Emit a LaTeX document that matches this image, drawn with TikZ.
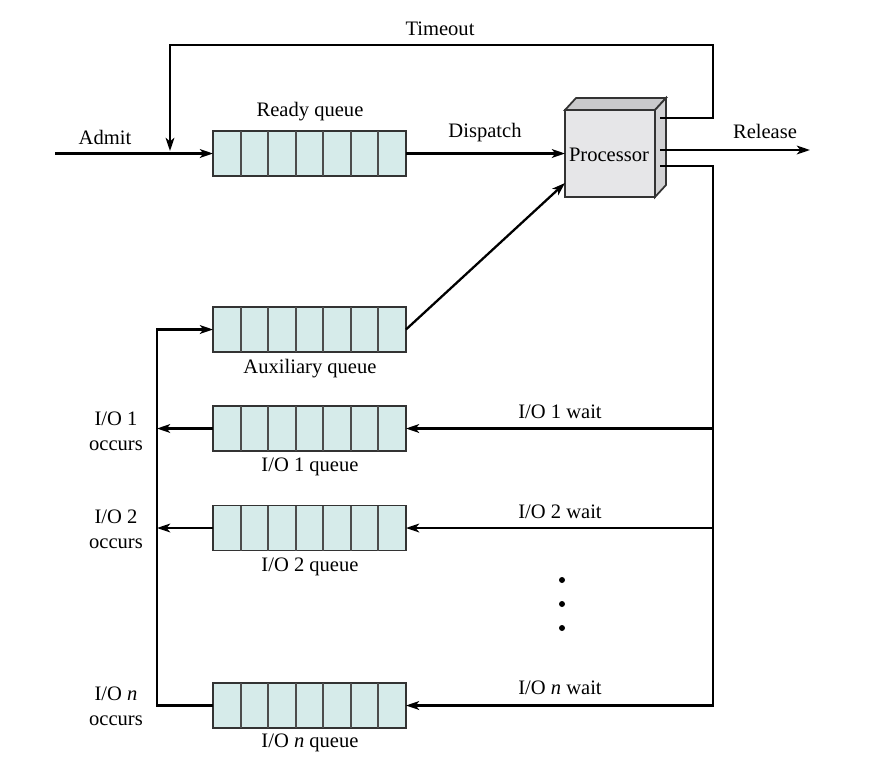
\documentclass[tikz,border=0pt]{standalone}
\usepackage{fontspec}
\setmainfont{Liberation Serif}
\usetikzlibrary{arrows.meta,calc}

\definecolor{qfill}{HTML}{D6EBEA}
\definecolor{pfront}{HTML}{E6E6E8}
\definecolor{ptop}{HTML}{C9C9CB}
\definecolor{pside}{HTML}{D2D2D4}

\tikzset{
    queue/.style={draw=black!80, fill=qfill, line width=1pt, minimum width=3.86cm, minimum height=0.9cm, inner sep=0pt, outer sep=0pt},
    cell/.style={draw=black!70, line width=1.1pt},
    flow/.style={line width=1.3pt, -{Stealth[length=7.5pt,width=5pt,inset=2pt]}},
    lbl/.style={font=\fontsize{11.7}{14}\selectfont, inner sep=0pt},
}

% queue with seven cells
\newcommand{\queuebox}[2]{%
    \node[queue] (#1) at (309.5, #2) {};
    \foreach \i in {1,...,6}
        \draw[cell] ($(#1.north west)!\i/7!(#1.north east)$) -- ($(#1.south west)!\i/7!(#1.south east)$);
}

\begin{document}
\begin{tikzpicture}[x=0.02cm, y=-0.02cm]
    \useasboundingbox (0, 0) rectangle (870, 765);

    % queues
    \queuebox{RQ}{153.5}
    \queuebox{AQ}{329.5}
    \queuebox{Q1}{428.5}
    \queuebox{Q2}{528}
    \queuebox{Qn}{705.5}

    % processor
    \node[draw=black!80, fill=pfront, line width=1pt, minimum width=1.8cm, minimum height=1.74cm, inner sep=0pt, outer sep=0pt] (P) at (610, 153.5) {};
    \draw[black!80, fill=ptop, line width=1pt] (P.north west) -- ++(11, -12) -- ++(90, 0) -- (P.north east) -- cycle;
    \draw[black!80, fill=pside, line width=1pt] (P.north east) -- ++(11, -12) -- ++(0, 87) -- (P.south east) -- cycle;
    \node[lbl] at (609, 155) {Processor};

    % free ends
    \coordinate (admit) at (55, 153.5);
    \coordinate (T_out) at (660, 118);
    \coordinate (T_in) at (170, 151);
    \coordinate (R_out) at (660, 150);
    \coordinate (R_end) at (810, 150);
    \coordinate (B_out) at (660, 166);
    \coordinate (B_1) at (713, 428.5);
    \coordinate (B_2) at (713, 528);
    \coordinate (L_1) at (157, 428.5);
    \coordinate (L_2) at (157, 528);

    % connectors
    \draw[flow] (admit) -- (RQ.west);
    \draw[flow] (RQ.east) -- (P.west);
    \draw[flow] (T_out) -| (713, 45) -| (T_in);
    \draw[flow] (R_out) -- (R_end);
    \draw[flow] (AQ.east) -- ($(P.south west)+(0, -14)$);
    \draw[flow] (B_out) -| (713, 705.5) -- (Qn.east);
    \draw[flow] (B_1) -- (Q1.east);
    \draw[flow] (B_2) -- (Q2.east);
    \draw[flow] (Qn.west) -| (157, 329.5) -- (AQ.west);
    \draw[flow] (Q1.west) -- (L_1);
    \draw[flow] (Q2.west) -- (L_2);

    % labels
    \node[lbl] at (440, 29) {Timeout};
    \node[lbl] at (105, 137) {Admit};
    \node[lbl] at (310, 112) {Ready queue};
    \node[lbl] at (485, 133) {Dispatch};
    \node[lbl] at (765, 131) {Release};
    \node[lbl] at (310, 369) {Auxiliary queue};
    \node[lbl] at (560, 412) {I/O 1 wait};
    \node[lbl] at (310, 467) {I/O 1 queue};
    \node[lbl] at (560, 512) {I/O 2 wait};
    \node[lbl] at (310, 567) {I/O 2 queue};
    \node[lbl] at (560, 688) {I/O \textit{n} wait};
    \node[lbl] at (310, 743) {I/O \textit{n} queue};
    \node[lbl, align=center] at (116, 431) {I/O 1\\occurs};
    \node[lbl, align=center] at (116, 529) {I/O 2\\occurs};
    \node[lbl, align=center] at (116, 706) {I/O \textit{n}\\occurs};

    % dots
    \foreach \y in {580, 604, 628}
        \fill (562, \y) circle (3);
\end{tikzpicture}
\end{document}
